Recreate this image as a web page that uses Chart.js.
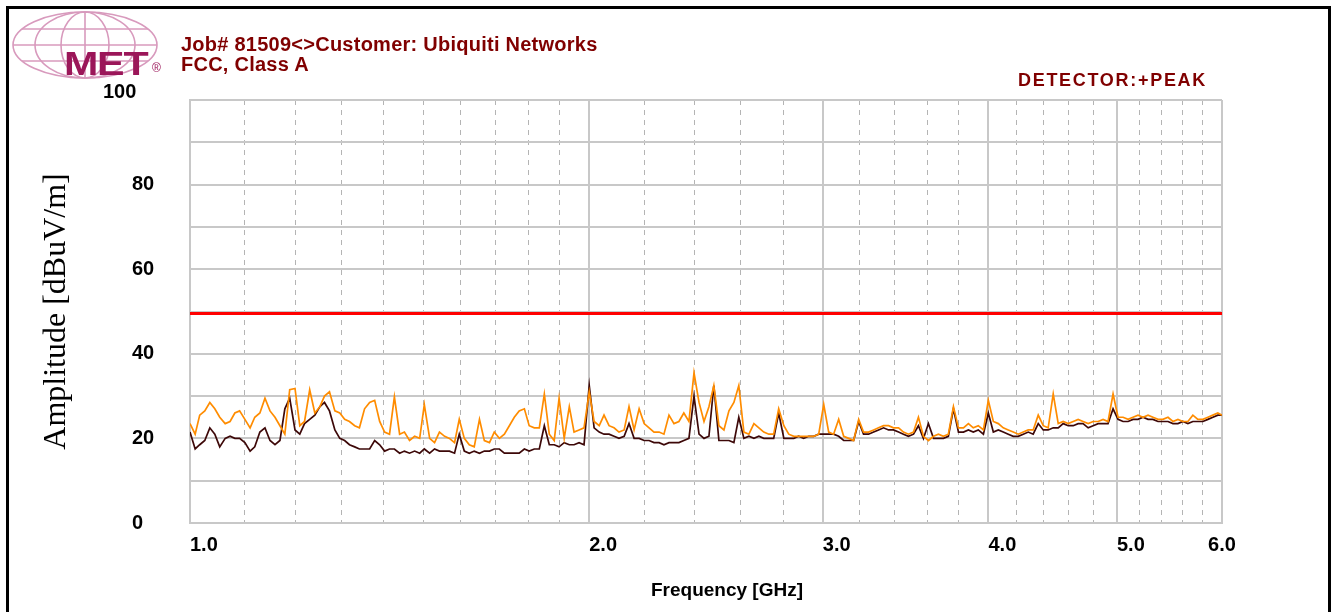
<!DOCTYPE html>
<html>
<head>
<meta charset="utf-8">
<script src="https://cdn.jsdelivr.net/npm/chart.js@4.4.0/dist/chart.umd.min.js"></script>
<style>
html, body { margin: 0; padding: 0; background: #fff; }
#wrap { position: relative; width: 1335px; height: 612px; overflow: hidden; background: #fff; }
#chart { position: absolute; left: 0; top: 0; }
#frame { position: absolute; left: 6px; top: 6px; width: 1319px; height: 640px; border: 3px solid #000; pointer-events: none; }
.hdr { position: absolute; color: #800000; font-family: "Liberation Sans", Arial, sans-serif; font-weight: bold; white-space: nowrap; line-height: 1; }
#logo { position: absolute; left: 0; top: 0; }
#met { position: absolute; left: 64px; top: 47px; color: #9b1659; font-family: "Liberation Sans", Arial, sans-serif; font-weight: bold; font-size: 33px; line-height: 1; transform: scaleX(1.25); transform-origin: left top; letter-spacing: -1px; }
#reg { position: absolute; left: 152px; top: 62px; color: #9b1659; font-family: "Liberation Sans", Arial, sans-serif; font-size: 12px; line-height: 1; }
</style>
</head>
<body>
<div id="wrap">
  <canvas id="chart" width="1335" height="612"></canvas>
  <svg id="logo" width="170" height="90">
    <g fill="none" stroke="#d89abd" stroke-width="1.6">
      <ellipse cx="85" cy="45" rx="72" ry="33"/>
      <ellipse cx="85" cy="45" rx="50" ry="33"/>
      <ellipse cx="85" cy="45" rx="24" ry="33"/>
      <line x1="85" y1="12" x2="85" y2="78"/>
      <line x1="13" y1="45" x2="157" y2="45"/>
      <line x1="22" y1="29" x2="148" y2="29"/>
      <line x1="22" y1="61" x2="148" y2="61"/>
    </g>
  </svg>
  <div id="met">MET</div>
  <div id="reg">&reg;</div>
  <div class="hdr" style="left:181px; top:34px; font-size:20px; letter-spacing:0.25px;">Job# 81509&lt;&gt;Customer: Ubiquiti Networks</div>
  <div class="hdr" style="left:181px; top:54px; font-size:20px; letter-spacing:0.25px;">FCC, Class A</div>
  <div class="hdr" style="left:1018px; top:71px; font-size:18px; letter-spacing:1.7px;">DETECTOR:+PEAK</div>
  <div id="frame"></div>
</div>
<script>
// sweep frequencies (MHz)
var freqMHz = [
  1000,1009,1017,1026,1035,1044,1053,1063,1072,1081,
  1090,1100,1110,1119,1129,1139,1149,1159,1169,1179,
  1189,1200,1210,1220,1231,1242,1253,1263,1274,1286,
  1297,1308,1319,1331,1342,1354,1366,1378,1390,1402,
  1414,1426,1439,1451,1464,1477,1490,1502,1516,1529,
  1542,1556,1569,1583,1596,1610,1624,1638,1653,1667,
  1682,1696,1711,1726,1741,1756,1771,1787,1802,1818,
  1834,1850,1866,1882,1898,1915,1932,1948,1965,1982,
  2000,2017,2035,2052,2070,2088,2106,2125,2143,2162,
  2181,2200,2219,2238,2258,2277,2297,2317,2337,2357,
  2378,2399,2420,2441,2462,2483,2505,2527,2549,2571,
  2593,2616,2639,2662,2685,2708,2732,2755,2779,2804,
  2828,2853,2877,2902,2928,2953,2979,3005,3031,3057,
  3084,3111,3138,3165,3193,3220,3248,3277,3305,3334,
  3363,3392,3422,3451,3481,3512,3542,3573,3604,3636,
  3667,3699,3731,3764,3797,3830,3863,3896,3930,3965,
  3999,4034,4069,4104,4140,4176,4212,4249,4286,4323,
  4361,4399,4437,4476,4515,4554,4594,4634,4674,4714,
  4756,4797,4839,4881,4923,4966,5009,5053,5097,5141,
  5186,5231,5277,5322,5369,5415,5463,5510,5558,5606,
  5655,5704,5754,5804,5855,5906,5957,6000
];

// +peak, orange trace (dBuV/m)
var peakOrange = [
  23.5,21,25.5,26.5,28.5,27,25,23.5,24,26,
  26.5,24.5,22.5,25,26,29.5,26.5,25,23,21,
  31.5,31.8,23,24,31.5,26,27.5,30,31,26.5,
  26,24.5,24,23,22.5,27,28.5,29,24,21.5,
  21,29.8,21,21.5,19.5,20.5,20,28,20,19,
  21.5,20.5,20,
  19,24.5,20,18.5,18,24.5,19.5,19,21.5,20,
  21,23,25,26.5,27,23,22.5,22.5,30.5,21,
  19.5,29.5,20,27.5,21.5,22,22.5,31,24,23,
  25.5,23,22.5,21.5,22,27.5,22,27,23.5,22.5,
  21.5,21.5,21,25.5,23.5,24,26,24,35.5,28.5,
  24,27.5,
  32.5,23,22,26.5,28.5,32.5,21.5,21,23.5,22.5,
  21.5,21,21,27,23,21,20.5,20.5,20.5,20.5,
  20.5,21,28,21.5,21,24.5,20.5,20,19.5,24.5,
  21.5,21.5,22,22.5,23,23,22.5,22.5,21.5,21,
  21.5,25,20.5,19.5,20.5,21,20.5,21,27.5,22.5,
  22.5,23.5,
  22.5,23,22,29,24,23.5,22.5,22,21.5,21,
  21.5,22,22,25.5,23,22.5,30.5,23.5,24,23.5,
  24,24.5,24,23.5,24,24,24.5,24,30.5,25,
  25,24.5,25,25.5,25,25.5,25,24.5,24.5,25,
  24,24.5,24,24,25.5,24.5,24.5,25,25.5,26,
  25.5
];

// second trace, dark
var peakDark = [
  21.5,17.5,18.5,19.5,22.5,21,18,20,20.5,20,
  20,19,17,18,21.5,22.5,19.5,18.5,19.5,27,
  29.5,22,21,23.5,24.5,25.5,27.5,28.5,26.5,22,
  20,19.5,18.5,18,17.5,17.5,17.5,19.5,18.5,17,
  17.5,17.5,16.5,17,16.5,17,16.5,17.5,16.5,17.5,
  17,17,17,
  16.5,21,17,16.5,17,16.5,17,17,17.5,17.5,
  16.5,16.5,16.5,16.5,17.5,17,17.5,17.5,23,18.5,
  18.5,18,19,18.5,18.5,19,18.5,32.5,22.5,21.5,
  21,21,20.5,20,20.5,23.5,20,20,19.5,19.5,
  19,19,18.5,19,19,19,19.5,20,30,21,
  20,20.5,
  32.5,19.5,19.5,19.5,19,25,20,20.5,20,20.5,
  20,20,20,26,20,20,20,20.5,20,20.5,
  20.5,21,21,21,21,20.5,19.5,19.5,19.5,24,
  21,21,21.5,22,22.5,22,22,21.5,21,20.5,
  21,23,20,23.5,20,20,20,20.5,27,21.5,
  21.5,22,
  21.5,22,21,26,21.5,22,21.5,21,20.5,20.5,
  21,21.5,21,23.5,22,22,22.5,22.5,23.5,23,
  23,23.5,23.5,22.5,23,23.5,23.5,23.5,27,24.5,
  24,24,24.5,24.5,25,24.5,24.5,24,24,24,
  23.5,23.5,24,23.5,24,24,24,24.5,25,25.5,
  25.5
];

// limit line
var limitFreqGHz = [1, 6];
var limitLevel = [49.5, 49.5];

// axis ticks
var xGridValues = [1,1.1,1.2,1.3,1.4,1.5,1.6,1.7,1.8,1.9,2,2.2,2.4,2.6,2.8,3,3.2,3.4,3.6,3.8,4,4.2,4.4,4.6,4.8,5,5.2,5.4,5.6,5.8,6];
var xLabelValues = [1, 2, 3, 4, 5, 6];
var xLabelText = ['1.0', '2.0', '3.0', '4.0', '5.0', '6.0'];
var yLabelValues = [0, 20, 40, 60, 80, 100];

function toPoints(freqs, vals, scale) {
  return vals.map(function (v, i) { return { x: freqs[i] / scale, y: v }; });
}

function isMajor(v) { return Math.abs(v - Math.round(v)) < 1e-6; }

// tick labels + x title drawn by hand so they sit where the original puts them
var labelPlugin = {
  id: 'labels',
  afterDraw: function (chart) {
    var ctx = chart.ctx, x = chart.scales.x, y = chart.scales.y;
    ctx.save();
    ctx.fillStyle = '#000';
    ctx.font = 'bold 20px "Liberation Sans", Arial, sans-serif';
    ctx.textBaseline = 'middle';
    yLabelValues.forEach(function (v) {
      var py = y.getPixelForValue(v);
      ctx.textAlign = 'left';
      if (v === 100) ctx.fillText('100', 103, py - 8);
      else ctx.fillText(String(v), 132, py);
    });
    xLabelValues.forEach(function (v, i) {
      var px = x.getPixelForValue(v);
      ctx.textAlign = (i === xLabelValues.length - 1) ? 'center' : 'left';
      ctx.fillText(xLabelText[i], px, 545);
    });
    ctx.font = 'bold 19px "Liberation Sans", Arial, sans-serif';
    ctx.textAlign = 'center';
    ctx.fillText('Frequency [GHz]', 727, 591);
    ctx.restore();
  }
};

var ctx = document.getElementById('chart').getContext('2d');
var chart = new Chart(ctx, {
  type: 'line',
  data: {
    datasets: [{
      label: 'Limit',
      data: toPoints(limitFreqGHz, limitLevel, 1),
      borderColor: '#ff0000',
      borderWidth: 3,
      order: 1
    }, {
      label: 'Peak',
      data: toPoints(freqMHz, peakOrange, 1000),
      borderColor: '#ff8c00',
      borderWidth: 1.7,
      order: 2
    }, {
      label: 'Peak 2',
      data: toPoints(freqMHz, peakDark, 1000),
      borderColor: '#3d0808',
      borderWidth: 1.7,
      order: 3
    }]
  },
  options: {
    responsive: false,
    animation: false,
    layout: { padding: { left: 0, right: 113, top: 100, bottom: 0 } },
    elements: { point: { radius: 0 }, line: { tension: 0 } },
    plugins: { legend: { display: false }, tooltip: { enabled: false } },
    scales: {
      x: {
        type: 'logarithmic',
        min: 1,
        max: 6,
        afterBuildTicks: function (scale) {
          scale.ticks = xGridValues.map(function (v) { return { value: v }; });
        },
        afterFit: function (scale) { scale.height = 89; },
        ticks: { display: false, autoSkip: false },
        grid: {
          drawTicks: false,
          color: function (c) { return c.tick && !isMajor(c.tick.value) ? '#b4b4b4' : '#c8c8c8'; },
          lineWidth: function (c) { return c.tick && !isMajor(c.tick.value) ? 1 : 2; }
        },
        border: {
          display: true,
          color: '#c8c8c8',
          width: 2,
          dash: function (c) { return c.tick && !isMajor(c.tick.value) ? [5, 5] : []; }
        }
      },
      y: {
        type: 'linear',
        min: 0,
        max: 100,
        afterFit: function (scale) { scale.width = 190; },
        ticks: { display: false, stepSize: 10 },
        grid: { drawTicks: false, color: '#c8c8c8', lineWidth: 2 },
        border: { display: true, color: '#c8c8c8', width: 2 },
        title: {
          display: true,
          text: 'Amplitude [dBuV/m]',
          color: '#000',
          font: { family: '"Liberation Serif", "Times New Roman", serif', size: 32, weight: 'normal' },
          padding: { top: 37, bottom: 0 }
        }
      }
    }
  },
  plugins: [labelPlugin]
});
</script>
</body>
</html>
